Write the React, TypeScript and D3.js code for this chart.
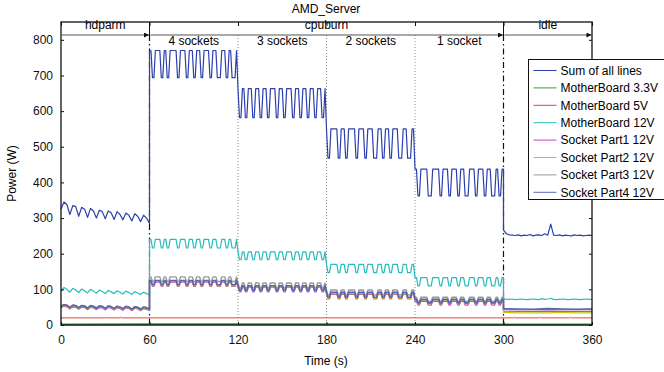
import React, { useEffect, useRef } from 'react';
import * as d3 from 'd3';

type Pt = [number, number];

const phaseBounds = [0, 60, 120, 180, 240, 300, 360];
const topLabels = ['hdparm', 'cpuburn', 'idle'];
const topLabelTimes = [30, 180, 330];
const socketLabels = ['4 sockets', '3 sockets', '2 sockets', '1 socket'];
const xTicks = [0, 60, 120, 180, 240, 300, 360];
const yTicks = [0, 100, 200, 300, 400, 500, 600, 700, 800];

const seriesNames = [
    'Sum of all lines', 'MotherBoard 3.3V', 'MotherBoard 5V', 'MotherBoard 12V',
    'Socket Part1 12V', 'Socket Part2 12V', 'Socket Part3 12V', 'Socket Part4 12V'
];
const seriesColors = ['#2c40ac', '#2ea02e', '#ee4040', '#26bcbc', '#c847c8', '#c8c400', '#999999', '#5565b4'];

// seconds where the cpuburn load drops (start, end) for 4, 3, 2, 1 sockets
const dips4 = [[62, 64], [68, 70], [72, 74], [79, 81], [85, 87], [90, 92], [95, 97], [101, 103], [106, 109], [112, 114], [116, 119]];
const dips3 = [[121, 123], [125, 127], [130, 132], [135, 137], [140, 142], [146, 148], [151, 153], [157, 159], [162, 164], [167, 169], [172, 174], [177, 179]];
const dips2 = [[181, 183], [188, 190], [193, 195], [200, 202], [206, 208], [212, 215], [218, 220], [223, 225], [229, 232], [235, 238]];
const dips1 = [[242, 244], [249, 252], [257, 259], [263, 265], [269, 271], [274, 277], [281, 283], [287, 289], [292, 295], [297, 299]];

// hdparm (every 2 s)
const hdSum = [325, 345, 338, 310, 335, 332, 305, 330, 325, 302, 327, 320, 300, 322, 318, 298, 320, 315, 296, 318, 310, 295, 314, 308, 292, 312, 305, 290, 308, 300, 285];
const hdMb12 = [95, 105, 100, 92, 103, 98, 91, 101, 96, 90, 100, 95, 89, 98, 94, 88, 97, 93, 88, 96, 92, 87, 95, 91, 86, 94, 90, 86, 92, 88, 85];
const hdPart1 = [48, 53, 51, 45, 51, 50, 44, 50, 49, 43, 50, 48, 43, 49, 48, 42, 49, 47, 42, 48, 46, 41, 48, 46, 40, 47, 45, 40, 46, 44, 40];
const hdPart2 = [50, 55, 53, 47, 53, 52, 46, 52, 51, 45, 52, 50, 45, 51, 50, 44, 51, 49, 44, 50, 48, 43, 50, 48, 42, 49, 47, 42, 48, 46, 42];
const hdPart3 = [53, 58, 56, 50, 56, 55, 49, 55, 54, 48, 55, 53, 48, 54, 53, 47, 54, 52, 47, 53, 51, 46, 53, 51, 45, 52, 50, 45, 51, 49, 45];
const hdPart4 = [52, 57, 55, 49, 55, 54, 48, 54, 53, 47, 54, 52, 47, 53, 52, 46, 53, 51, 46, 52, 50, 45, 52, 50, 44, 51, 49, 44, 50, 48, 44];

// cpuburn high / low levels for 4, 3, 2, 1 sockets
const sumHigh = [770, 663, 550, 437];
const sumLow = [694, 582, 468, 362];
const mb12High = [240, 205, 170, 133];
const mb12Low = [216, 183, 147, 110];
const part1High = [120, 106, 86, 66];
const part1Low = [108, 93, 73, 56];
const part2High = [122, 108, 88, 70];
const part2Low = [110, 95, 75, 60];
const part3High = [135, 118, 98, 78];
const part3Low = [122, 104, 84, 66];
const part4High = [125, 110, 92, 72];
const part4Low = [113, 97, 78, 62];

// idle (sum / mb12 every 2 s, sockets every 10 s)
const idleSum = [266, 256, 253, 252, 251, 253, 250, 252, 251, 254, 250, 252, 253, 251, 256, 252, 283, 252, 251, 253, 250, 252, 251, 250, 253, 251, 252, 250, 251, 252, 251];
const idleMb12 = [74, 72, 72, 73, 71, 72, 73, 72, 71, 72, 73, 72, 71, 74, 72, 73, 75, 72, 71, 72, 73, 72, 71, 72, 73, 72, 71, 72, 73, 72, 72];
const idlePart1 = [39, 38, 38, 39, 38, 38, 38];
const idlePart2 = [35, 34, 34, 34, 35, 34, 34];
const idlePart3 = [44, 43, 43, 44, 43, 43, 44];
const idlePart4 = [46, 45, 44, 46, 45, 44, 45];

const mb33Levels = [1.5, 2, 2, 2, 2, 1.5, 1.5];
const mb5Points: Pt[] = [[0, 20], [30, 20], [30.5, 22], [31, 20], [40, 20], [40.5, 22], [41, 20], [307, 20], [307.5, 22], [308, 20], [324, 20], [324.5, 22], [325, 20], [345, 20], [345.5, 22], [346, 20], [360, 20]];

const dipsAll = [dips4, dips3, dips2, dips1];

function buildSeries(hd: number[], hdStep: number, high: number[], low: number[], idle: number[], idleStep: number): Pt[] {
    const pts: Pt[] = hd.map((v, i) => [i * hdStep, v] as Pt);
    for (let p = 0; p < 4; p++) {
        for (let t = phaseBounds[p + 1]; t < phaseBounds[p + 2]; t++) {
            const inDip = dipsAll[p].some(([a, b]) => t >= a && t < b);
            pts.push([t, inDip ? low[p] : high[p]]);
        }
    }
    pts.push([300, high[3]]);
    idle.forEach((v, i) => pts.push([300 + i * idleStep, v]));
    return pts;
}

const font = 'Liberation Sans, Arial, Helvetica, sans-serif';

export default function App() {
    const ref = useRef<SVGSVGElement>(null);

    useEffect(() => {
        const svg = d3.select(ref.current);
        svg.selectAll('*').remove();

        const width = 664, height = 372;
        const margin = { top: 22, right: 72, bottom: 47, left: 61 };
        const graphWidth = width - margin.left - margin.right;
        const graphHeight = height - margin.top - margin.bottom;

        const x = d3.scaleLinear().domain([0, 360]).range([0, graphWidth]);
        const y = d3.scaleLinear().domain([0, 850]).range([graphHeight, 0]);

        const defs = svg.append('defs');
        defs.append('marker')
            .attr('id', 'arrow')
            .attr('viewBox', '0 0 10 10')
            .attr('refX', 10).attr('refY', 5)
            .attr('markerUnits', 'userSpaceOnUse')
            .attr('markerWidth', 8).attr('markerHeight', 5)
            .attr('orient', 'auto')
            .append('path').attr('d', 'M0,0 L10,5 L0,10 z').attr('fill', '#111');

        svg.append('text')
            .attr('x', 326).attr('y', 13)
            .attr('text-anchor', 'middle')
            .attr('font-family', font).attr('font-size', 12)
            .text('AMD_Server');

        const graph = svg.append('g')
            .attr('transform', `translate(${margin.left}, ${margin.top})`);

        // phase separators
        const arrowY = 13;
        [60, 300].forEach(t => {
            graph.append('line')
                .attr('x1', x(t)).attr('x2', x(t)).attr('y1', 0).attr('y2', arrowY)
                .attr('stroke', '#111').attr('stroke-width', 1);
            graph.append('line')
                .attr('x1', x(t)).attr('x2', x(t)).attr('y1', arrowY).attr('y2', graphHeight)
                .attr('stroke', '#111').attr('stroke-width', 1.2)
                .attr('stroke-dasharray', '6,3,1.5,3');
        });
        [120, 180, 240].forEach(t => {
            graph.append('line')
                .attr('x1', x(t)).attr('x2', x(t)).attr('y1', arrowY).attr('y2', graphHeight)
                .attr('stroke', '#888').attr('stroke-width', 1)
                .attr('stroke-dasharray', '1,2');
        });

        // arrows
        [[0, 60], [60, 300], [300, 360]].forEach(([a, b]) => {
            graph.append('line')
                .attr('x1', x(a) + 1).attr('x2', x(b) - 0.5)
                .attr('y1', arrowY).attr('y2', arrowY)
                .attr('stroke', '#555').attr('stroke-width', 1)
                .attr('marker-end', 'url(#arrow)');
        });

        topLabels.forEach((s, i) => {
            graph.append('text')
                .attr('x', x(topLabelTimes[i])).attr('y', 7)
                .attr('text-anchor', 'middle')
                .attr('font-family', font).attr('font-size', 12)
                .text(s);
        });
        socketLabels.forEach((s, i) => {
            graph.append('text')
                .attr('x', x(90 + i * 60)).attr('y', 23)
                .attr('text-anchor', 'middle')
                .attr('font-family', font).attr('font-size', 12)
                .text(s);
        });

        // series
        const sum = buildSeries(hdSum, 2, sumHigh, sumLow, idleSum, 2);
        const mb33: Pt[] = phaseBounds.map((t, i) => [t, mb33Levels[i]]);
        const mb12 = buildSeries(hdMb12, 2, mb12High, mb12Low, idleMb12, 2);
        const p1 = buildSeries(hdPart1, 2, part1High, part1Low, idlePart1, 10);
        const p2 = buildSeries(hdPart2, 2, part2High, part2Low, idlePart2, 10);
        const p3 = buildSeries(hdPart3, 2, part3High, part3Low, idlePart3, 10);
        const p4 = buildSeries(hdPart4, 2, part4High, part4Low, idlePart4, 10);
        const allSeries = [sum, mb33, mb5Points, mb12, p1, p2, p3, p4];
        const widths = [1.2, 2, 1, 1.2, 1.2, 1.2, 1.4, 1.6];

        const line = d3.line<Pt>().x(d => x(d[0])).y(d => y(d[1]));

        graph.selectAll('path.series')
            .data(allSeries)
            .enter()
            .append('path')
            .attr('class', 'series')
            .attr('d', d => line(d))
            .attr('fill', 'none')
            .attr('stroke', (d, i) => seriesColors[i])
            .attr('stroke-width', (d, i) => widths[i])
            .attr('stroke-linejoin', 'round');

        // axes
        const styleAxis = (g: any) => {
            g.select('.domain').remove();
            g.selectAll('text').attr('font-family', font).attr('font-size', 12).attr('fill', '#111');
            g.selectAll('line').attr('stroke', '#111');
        };

        graph.append('g')
            .call(d3.axisLeft(y).tickValues(yTicks).tickSizeInner(-3).tickSizeOuter(0).tickPadding(8))
            .call(styleAxis);
        graph.append('g')
            .attr('transform', `translate(${graphWidth},0)`)
            .call(d3.axisRight(y).tickValues(yTicks).tickSizeInner(-3).tickSizeOuter(0).tickFormat(() => ''))
            .call(styleAxis);
        graph.append('g')
            .attr('transform', `translate(0,${graphHeight})`)
            .call(d3.axisBottom(x).tickValues(xTicks).tickSizeInner(-3).tickSizeOuter(0).tickPadding(10))
            .call(styleAxis);
        graph.append('g')
            .call(d3.axisTop(x).tickValues(xTicks).tickSizeInner(-4).tickSizeOuter(0).tickFormat(() => ''))
            .call(styleAxis);

        graph.append('rect')
            .attr('x', 0).attr('y', 0)
            .attr('width', graphWidth).attr('height', graphHeight)
            .attr('fill', 'none').attr('stroke', '#111').attr('stroke-width', 1.3);

        svg.append('text')
            .attr('x', 326).attr('y', 365)
            .attr('text-anchor', 'middle')
            .attr('font-family', font).attr('font-size', 12)
            .text('Time (s)');
        svg.append('text')
            .attr('transform', `translate(16, ${margin.top + graphHeight / 2}) rotate(-90)`)
            .attr('text-anchor', 'middle')
            .attr('font-family', font).attr('font-size', 12)
            .text('Power (W)');

        // legend
        const legend = svg.append('g').attr('transform', 'translate(528.5, 59.5)');
        legend.append('rect')
            .attr('width', 150).attr('height', 140)
            .attr('fill', 'white').attr('stroke', '#111').attr('stroke-width', 1);
        seriesNames.forEach((name, i) => {
            const ly = 11 + i * 17.4;
            legend.append('line')
                .attr('x1', 5).attr('x2', 28).attr('y1', ly).attr('y2', ly)
                .attr('stroke', seriesColors[i]).attr('stroke-width', 1);
            legend.append('text')
                .attr('x', 32).attr('y', ly).attr('dy', '0.35em')
                .attr('font-family', font).attr('font-size', 12)
                .text(name);
        });
    }, []);

    return (
        <svg ref={ref} width={664} height={372}
            style={{ position: 'absolute', left: 0, top: 0, background: 'white' }} />
    );
}
